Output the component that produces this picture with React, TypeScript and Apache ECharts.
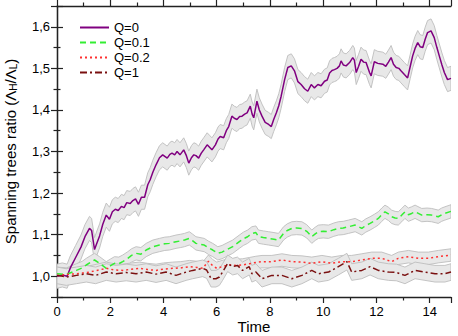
import React, { useEffect, useRef } from "react";
import * as echarts from "echarts";

const FONT = "'Liberation Sans', Arial, sans-serif";

const seriesNames = ["Q=0", "Q=0.1", "Q=0.2", "Q=1"];
const lineColors = ["#800080", "#33ee33", "#ff3030", "#7a1010"];
const bandSpread = [0.029, 0.016, 0.015, 0.02];

const q0: number[][] = [
  [0, 1.0], [0.2, 1.003], [0.38, 1.0], [0.5, 1.02], [0.7, 1.045], [0.9, 1.07], [1.05, 1.095],
  [1.22, 1.115], [1.3, 1.11], [1.41, 1.064], [1.5, 1.08], [1.6, 1.097], [1.72, 1.125], [1.85, 1.147],
  [1.97, 1.137], [2.08, 1.155], [2.19, 1.161], [2.3, 1.158], [2.42, 1.168], [2.52, 1.165], [2.62, 1.177],
  [2.75, 1.175], [2.85, 1.182], [2.95, 1.186], [3.06, 1.173], [3.17, 1.19], [3.29, 1.19], [3.41, 1.22],
  [3.5, 1.232], [3.6, 1.25], [3.72, 1.268], [3.85, 1.285], [3.97, 1.292], [4.14, 1.284], [4.24, 1.293],
  [4.32, 1.296], [4.42, 1.292], [4.51, 1.3], [4.62, 1.292], [4.76, 1.304], [4.86, 1.29], [4.95, 1.272],
  [5.05, 1.285], [5.14, 1.292], [5.22, 1.29], [5.32, 1.284], [5.42, 1.296], [5.51, 1.304], [5.64, 1.316],
  [5.73, 1.31], [5.82, 1.304], [5.95, 1.316], [6.05, 1.33], [6.13, 1.336], [6.26, 1.333], [6.36, 1.35],
  [6.45, 1.36], [6.57, 1.385], [6.66, 1.38], [6.76, 1.377], [6.86, 1.384], [6.95, 1.385], [7.05, 1.39],
  [7.14, 1.393], [7.26, 1.409], [7.33, 1.39], [7.39, 1.381], [7.51, 1.421], [7.6, 1.4], [7.7, 1.385],
  [7.82, 1.37], [7.95, 1.365], [8.05, 1.36], [8.14, 1.377], [8.24, 1.393], [8.33, 1.41], [8.42, 1.433],
  [8.55, 1.473], [8.67, 1.502], [8.8, 1.506], [8.92, 1.494], [9.05, 1.468], [9.17, 1.461], [9.3, 1.451],
  [9.42, 1.445], [9.55, 1.461], [9.67, 1.453], [9.8, 1.461], [9.92, 1.458], [10.05, 1.469], [10.15, 1.472],
  [10.24, 1.489], [10.33, 1.495], [10.42, 1.497], [10.52, 1.5], [10.61, 1.506], [10.67, 1.518],
  [10.76, 1.508], [10.86, 1.506], [10.99, 1.514], [11.11, 1.526], [11.17, 1.52], [11.24, 1.49],
  [11.33, 1.505], [11.42, 1.522], [11.52, 1.515], [11.61, 1.514], [11.74, 1.49], [11.8, 1.482],
  [11.92, 1.516], [12.05, 1.512], [12.24, 1.51], [12.35, 1.505], [12.45, 1.515], [12.55, 1.526],
  [12.64, 1.51], [12.74, 1.502], [12.84, 1.5], [12.92, 1.494], [13.05, 1.485], [13.17, 1.477],
  [13.27, 1.505], [13.36, 1.53], [13.45, 1.548], [13.55, 1.562], [13.64, 1.552], [13.74, 1.55],
  [13.83, 1.57], [13.92, 1.586], [14.05, 1.59], [14.17, 1.574], [14.27, 1.55], [14.36, 1.53],
  [14.46, 1.508], [14.55, 1.49], [14.67, 1.473], [14.8, 1.476],
];

const q01: number[][] = [
  [0, 1.006], [0.35, 1.004], [0.73, 1.014], [0.95, 1.02], [1.1, 1.027], [1.25, 1.033], [1.41, 1.039],
  [1.6, 1.031], [1.85, 1.019], [2.0, 1.025], [2.16, 1.031], [2.32, 1.03], [2.47, 1.035], [2.66, 1.043],
  [2.8, 1.05], [2.97, 1.055], [3.15, 1.053], [3.35, 1.063], [3.6, 1.071], [3.85, 1.075], [4.05, 1.078],
  [4.22, 1.079], [4.47, 1.083], [4.65, 1.085], [4.79, 1.087], [4.97, 1.091], [5.1, 1.085], [5.22, 1.079],
  [5.53, 1.075], [5.7, 1.068], [5.85, 1.063], [6.04, 1.055], [6.2, 1.058], [6.35, 1.063], [6.6, 1.071],
  [6.85, 1.083], [7.0, 1.09], [7.16, 1.095], [7.32, 1.103], [7.47, 1.105], [7.57, 1.095], [7.75, 1.093],
  [7.95, 1.091], [8.15, 1.089], [8.32, 1.087], [8.51, 1.103], [8.65, 1.11], [8.82, 1.115], [9.0, 1.116],
  [9.2, 1.115], [9.38, 1.108], [9.57, 1.095], [9.7, 1.102], [9.82, 1.107], [10.0, 1.108], [10.2, 1.107],
  [10.4, 1.112], [10.57, 1.115], [10.75, 1.116], [10.95, 1.119], [11.2, 1.123], [11.45, 1.115],
  [11.6, 1.122], [11.76, 1.127], [11.92, 1.133], [12.07, 1.139], [12.2, 1.148], [12.32, 1.155],
  [12.45, 1.15], [12.57, 1.143], [12.7, 1.14], [12.82, 1.139], [12.95, 1.147], [13.07, 1.155],
  [13.2, 1.148], [13.32, 1.151], [13.45, 1.155], [13.7, 1.147], [13.9, 1.148], [14.07, 1.147],
  [14.2, 1.145], [14.32, 1.143], [14.45, 1.148], [14.57, 1.151], [14.8, 1.156],
];

const q02: number[][] = [
  [0, 1.002], [0.35, 1.004], [0.73, 1.006], [1.0, 1.008], [1.22, 1.01], [1.5, 1.014], [1.85, 1.019],
  [2.15, 1.015], [2.47, 1.014], [2.8, 1.017], [3.1, 1.019], [3.4, 1.016], [3.72, 1.014], [4.0, 1.017],
  [4.35, 1.019], [4.65, 1.02], [4.97, 1.023], [5.25, 1.021], [5.47, 1.019], [5.69, 1.036], [5.85, 1.025],
  [6.0, 1.019], [6.25, 1.024], [6.47, 1.027], [6.75, 1.026], [6.97, 1.027], [7.22, 1.03], [7.47, 1.033],
  [7.7, 1.035], [8.07, 1.035], [8.45, 1.039], [8.82, 1.035], [9.2, 1.034], [9.57, 1.031], [9.95, 1.035],
  [10.32, 1.031], [10.7, 1.035], [11.07, 1.035], [11.45, 1.039], [11.82, 1.043], [12.2, 1.043],
  [12.57, 1.035], [12.82, 1.043], [13.2, 1.047], [13.57, 1.043], [13.95, 1.043], [14.32, 1.047],
  [14.8, 1.051],
];

const q1: number[][] = [
  [0, 1.002], [0.35, 0.998], [0.73, 1.002], [1.1, 1.006], [1.45, 1.002], [1.85, 1.01], [2.22, 1.006],
  [2.6, 1.009], [2.97, 1.006], [3.35, 1.01], [3.72, 1.005], [4.1, 1.01], [4.47, 1.002], [4.85, 1.01],
  [5.1, 1.014], [5.47, 1.019], [5.62, 1.015], [5.79, 0.994], [5.97, 0.994], [6.1, 0.998], [6.22, 1.01],
  [6.41, 1.031], [6.6, 1.023], [6.78, 1.026], [6.97, 1.014], [7.22, 1.023], [7.32, 1.006], [7.47, 1.01],
  [7.7, 0.994], [8.07, 1.002], [8.45, 1.002], [8.82, 0.994], [9.2, 1.002], [9.57, 1.014], [9.82, 1.006],
  [10.2, 1.01], [10.57, 1.023], [10.89, 1.035], [11.07, 1.01], [11.45, 1.014], [11.76, 1.023],
  [12.07, 1.014], [12.45, 1.01], [12.75, 1.009], [13.07, 1.002], [13.45, 1.014], [13.82, 1.01],
  [14.2, 1.006], [14.57, 1.006], [14.8, 1.01],
];

const xMin = 0;
const xMax = 14.8;
const xInterval = 2;
const yMin = 0.95;
const yMax = 1.65;

const allSeries = [q0, q01, q02, q1];
const lineTypes: any[] = ["solid", [6, 4], [2, 3], [7, 3, 2, 3]];

export default function App() {
  const ref = useRef<HTMLDivElement>(null);
  useEffect(() => {
    if (!ref.current) return;
    const chart = echarts.init(ref.current, null, { renderer: "svg" });

    const bandSeries = allSeries.map((data, i) => ({
      type: "custom",
      name: "band" + i,
      xAxisIndex: 0,
      yAxisIndex: 0,
      clip: true,
      z: 1,
      silent: true,
      data: [[data[0][0], data[0][1]]],
      encode: { x: 0, y: 1 },
      renderItem: (params: any, api: any) => {
        const s = bandSpread[i];
        const upper = data.map((p) => api.coord([p[0], p[1] + s]));
        const lower = data.map((p) => api.coord([p[0], p[1] - s])).reverse();
        return {
          type: "polygon",
          shape: { points: upper.concat(lower) },
          style: { fill: "#e8e8e8", stroke: "#bdbdbd", lineWidth: 0.9 },
        };
      },
    }));

    const lineSeries = allSeries.map((data, i) => ({
      type: "line",
      name: seriesNames[i],
      data,
      symbol: "none",
      z: 3,
      lineStyle: { color: lineColors[i], width: 1.5, type: lineTypes[i] },
      itemStyle: { color: lineColors[i] },
    }));

    const axisLine = { show: true, lineStyle: { color: "#222", width: 1.3 } };
    const majorTick = { show: true, length: 6, lineStyle: { color: "#222", width: 1.2 } };
    const minorTick = { show: true, splitNumber: 2, length: 3.5, lineStyle: { color: "#222", width: 1.2 } };
    const tickLabel = (v: number) => v.toFixed(1).replace(".", ",");

    chart.setOption({
      animation: false,
      grid: { left: 57, right: 7, top: 6, bottom: 39, containLabel: false, outerBoundsMode: "none" },
      legend: {
        data: seriesNames,
        orient: "vertical",
        left: 79,
        top: 21,
        padding: 0,
        itemWidth: 29,
        itemHeight: 13,
        itemGap: 2,
        itemStyle: { opacity: 0, color: "transparent", borderWidth: 0 },
        textStyle: { fontFamily: FONT, fontSize: 13, color: "#000" },
      },
      xAxis: [
        {
          type: "value",
          min: xMin,
          max: xMax,
          interval: xInterval,
          position: "bottom",
          name: "Time",
          nameLocation: "middle",
          nameGap: 22,
          nameMoveOverlap: false,
          nameTextStyle: { fontFamily: FONT, fontSize: 15, color: "#000" },
          axisLine,
          axisTick: majorTick,
          minorTick,
          axisLabel: {
            fontFamily: FONT,
            fontSize: 13,
            color: "#000",
            margin: 8,
            showMaxLabel: false,
            formatter: (v: number) => String(Math.round(v)),
          },
          splitLine: { show: false },
        },
        {
          type: "value",
          min: xMin,
          max: xMax,
          interval: xInterval,
          position: "top",
          axisLine,
          axisTick: majorTick,
          minorTick,
          axisLabel: { show: false },
          splitLine: { show: false },
        },
      ],
      yAxis: [
        {
          type: "value",
          min: yMin,
          max: yMax,
          splitNumber: 7,
          position: "left",
          name: "Spanning trees ratio (Λ{sub|H}/Λ{sub|L})",
          nameLocation: "middle",
          nameGap: 39,
          nameMoveOverlap: false,
          nameTextStyle: {
            fontFamily: FONT,
            fontSize: 15,
            color: "#000",
            rich: {
              sub: { fontFamily: FONT, fontSize: 10, color: "#000", verticalAlign: "bottom", lineHeight: 16, padding: [7, 0, 0, 0] },
            },
          },
          axisLine,
          axisTick: majorTick,
          minorTick,
          axisLabel: {
            fontFamily: FONT,
            fontSize: 13,
            color: "#000",
            margin: 7,
            showMinLabel: false,
            showMaxLabel: false,
            formatter: tickLabel,
          },
          splitLine: { show: false },
        },
        {
          type: "value",
          min: yMin,
          max: yMax,
          splitNumber: 7,
          position: "right",
          axisLine,
          axisTick: majorTick,
          minorTick,
          axisLabel: { show: false },
          splitLine: { show: false },
        },
      ],
      series: [...bandSeries, ...lineSeries],
    });
    return () => chart.dispose();
  }, []);
  return (
    <div
      ref={ref}
      style={{ position: "absolute", left: 0, top: 0, width: 458, height: 336, background: "#fff" }}
    />
  );
}
